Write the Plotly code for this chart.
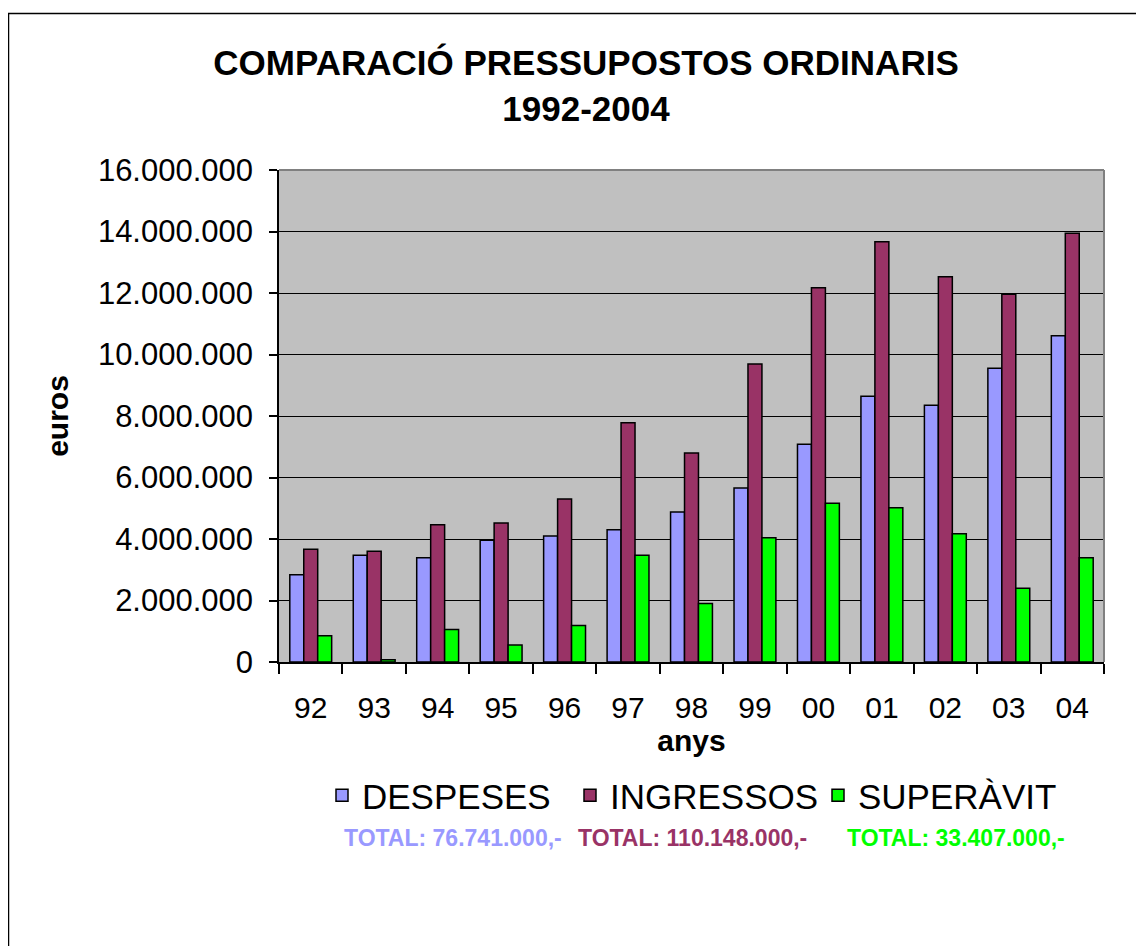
import plotly.graph_objects as go

# ---- data ----
anys = ["92", "93", "94", "95", "96", "97", "98", "99", "00", "01", "02", "03", "04"]
despeses = [2840000, 3470000, 3390000, 3960000, 4100000, 4300000, 4880000,
            5660000, 7080000, 8640000, 8350000, 9550000, 10610000]
ingressos = [3670000, 3600000, 4460000, 4520000, 5300000, 7780000, 6800000,
             9690000, 12170000, 13670000, 12530000, 11960000, 13940000]
superavit = [850000, 70000, 1060000, 550000, 1190000, 3470000, 1900000,
             4040000, 5160000, 5020000, 4170000, 2400000, 3390000]
series_names = ["DESPESES", "INGRESSOS", "SUPERÀVIT"]
totals_text = ["TOTAL: 76.741.000,-", "TOTAL: 110.148.000,-", "TOTAL: 33.407.000,-"]
y_ticks = [0, 2000000, 4000000, 6000000, 8000000, 10000000, 12000000, 14000000, 16000000]

colors = ["#9999FF", "#993366", "#00FF00"]

# ---- layout geometry (page has an 8px body margin) ----
OFF = 8
W, H = 1144 - OFF, 946 - OFF
L, R, T, B = 271, 40, 162, 284
PW, PH = W - L - R, H - T - B


def px_x(page_x):
    return (page_x - OFF - L) / PW


def px_y(page_y):
    return (H - B - (page_y - OFF)) / PH


FONT = "Liberation Sans, Arial, sans-serif"

fig = go.Figure()
for name, vals, col in zip(series_names, [despeses, ingressos, superavit], colors):
    fig.add_trace(go.Bar(
        x=anys, y=vals, name=name,
        marker=dict(color=col, line=dict(color="black", width=1.5)),
    ))

fig.update_layout(
    width=W, height=H,
    margin=dict(l=L, r=R, t=T, b=B),
    paper_bgcolor="white",
    plot_bgcolor="#C0C0C0",
    barmode="group",
    bargap=0.34,
    bargroupgap=0,
    separators=",.",
    font=dict(family=FONT, color="black"),
    title=dict(
        text="COMPARACIÓ PRESSUPOSTOS ORDINARIS<br>1992-2004",
        font=dict(family=FONT, size=35, color="black", weight="bold"),
        x=(586 - OFF) / W, xanchor="center", xref="container",
        y=1 - 67 / H, yanchor="top", yref="container",
    ),
    legend=dict(
        orientation="h",
        x=px_x(322), xanchor="left",
        y=px_y(766), yanchor="top",
        font=dict(family=FONT, size=35, color="black"),
        bgcolor="rgba(0,0,0,0)",
        itemwidth=30,
        entrywidth=203,
        traceorder="normal",
    ),
    showlegend=True,
)

fig.update_xaxes(
    type="category",
    showline=True, linecolor="black", linewidth=1.5,
    ticks="outside", tickson="boundaries", ticklen=10, tickcolor="black", tickwidth=1.5,
    tickfont=dict(family=FONT, size=30, color="black"),
    ticklabelstandoff=18,
    showgrid=False,
    title=dict(text="anys", font=dict(family=FONT, size=30, color="black", weight="bold"), standoff=0),
)
fig.update_yaxes(
    range=[0, 16000000],
    tickvals=y_ticks, tickformat=",d",
    showline=True, linecolor="black", linewidth=1.5,
    ticks="outside", ticklen=8, tickcolor="black", tickwidth=1.5,
    tickfont=dict(family=FONT, size=31, color="black"),
    ticklabelstandoff=10,
    showgrid=True, gridcolor="black", gridwidth=1,
    zeroline=False,
    title=dict(text="euros", font=dict(family=FONT, size=30, color="black", weight="bold"), standoff=20),
)

# plot-area border (top and right edges in grey)
fig.add_shape(type="line", xref="paper", yref="paper", x0=0, x1=1, y0=1, y1=1,
              line=dict(color="#808080", width=2))
fig.add_shape(type="line", xref="paper", yref="paper", x0=1, x1=1, y0=0, y1=1,
              line=dict(color="#808080", width=2))

# outer chart frame
fig.add_shape(type="rect", xref="paper", yref="paper",
              x0=px_x(8.5), x1=px_x(1200), y0=px_y(13.5), y1=px_y(1000),
              line=dict(color="black", width=1.5), fillcolor="rgba(0,0,0,0)")

# totals line
for txt, col, lx in zip(totals_text, colors, [342, 576, 845]):
    fig.add_annotation(
        text=txt, xref="paper", yref="paper",
        x=px_x(lx), y=px_y(838), xanchor="left", yanchor="middle",
        showarrow=False,
        font=dict(family=FONT, size=23, color=col, weight="bold"),
    )

fig.write_html("out.html")
